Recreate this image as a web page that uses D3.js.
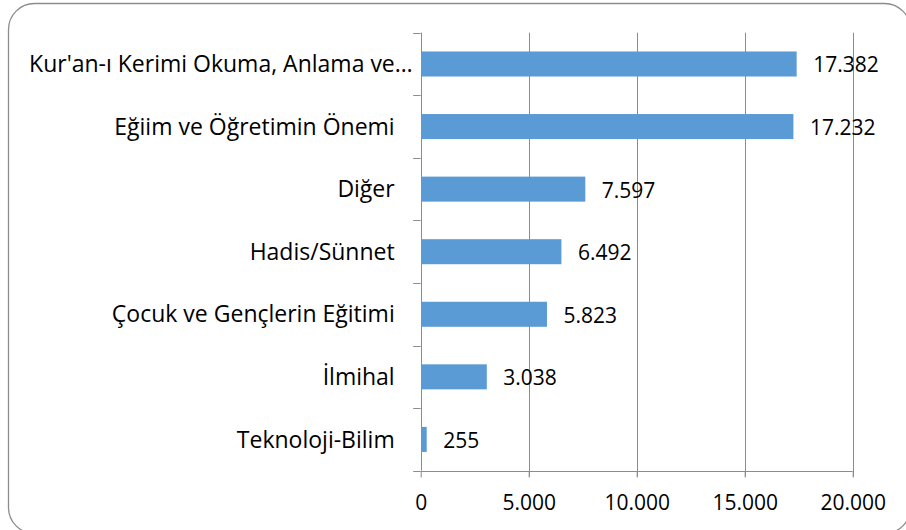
<!DOCTYPE html>
<html>
<head>
<meta charset="utf-8">
<script src="https://cdn.jsdelivr.net/npm/d3@7"></script>
<style>
  body { margin: 0; background: #fff; }
  svg text { font-family: "Open Sans", sans-serif; fill: #000; }
</style>
</head>
<body>
<div id="chart"></div>
<script>
const categories = [
  "Kur'an-ı Kerimi Okuma, Anlama ve…",
  "Eğiim ve Öğretimin Önemi",
  "Diğer",
  "Hadis/Sünnet",
  "Çocuk ve Gençlerin Eğitimi",
  "İlmihal",
  "Teknoloji-Bilim"
];
const values = [17382, 17232, 7597, 6492, 5823, 3038, 255];
const xTicks = [0, 5000, 10000, 15000, 20000];

const width = 906, height = 530;
const plotLeft = 420.7, plotRight = 852.7, plotTop = 32.7, plotBottom = 470.7;
const fs = 21;      // numbers
const fsCat = 23;   // category names

// turkish style numbers: 17.382
const tr = d3.formatLocale({decimal: ",", thousands: ".", grouping: [3], currency: ["", " TL"]});
const fmt = tr.format(",d");

const svg = d3.select("#chart").append("svg")
  .attr("width", width)
  .attr("height", height);

// frame
svg.append("rect")
  .attr("x", 8.5).attr("y", 3.5)
  .attr("width", 902).attr("height", 530)
  .attr("rx", 26).attr("ry", 26)
  .attr("fill", "#fff")
  .attr("stroke", "#8c8c8c")
  .attr("stroke-width", 1.3);

const x = d3.scaleLinear().domain([0, 20000]).range([plotLeft, plotRight]);
const y = d3.scaleBand().domain(categories).range([plotTop, plotBottom]).paddingInner(0.6).paddingOuter(0.3);
const yBand = d3.scaleBand().domain(categories).range([plotTop, plotBottom]);

// gridlines
svg.append("g")
  .selectAll("line")
  .data(xTicks.slice(1))
  .enter()
  .append("line")
  .attr("x1", d => Math.round(x(d)) + 0.5)
  .attr("x2", d => Math.round(x(d)) + 0.5)
  .attr("y1", plotTop)
  .attr("y2", plotBottom + 6)
  .attr("stroke", "#8c8c8c")
  .attr("stroke-width", 1);

// x axis
const xAxis = d3.axisBottom(x)
  .tickValues(xTicks)
  .tickFormat(fmt)
  .tickSize(6)
  .tickPadding(8);

const gx = svg.append("g")
  .attr("transform", "translate(0," + (Math.round(plotBottom) + 0.5) + ")")
  .call(xAxis);
gx.select(".domain").attr("stroke", "#8c8c8c").attr("d", "M" + plotLeft + ",0H" + plotRight);
gx.selectAll(".tick line").attr("stroke", "#8c8c8c");
gx.selectAll(".tick text")
  .attr("font-size", fs)
  .attr("font-family", "Open Sans, sans-serif")
  .attr("dy", null)
  .attr("y", 38.5);

// y axis (ticks between categories)
const yTicks = d3.range(categories.length + 1).map(i => plotTop + i * yBand.step());
svg.append("line")
  .attr("x1", Math.round(plotLeft) + 0.5).attr("x2", Math.round(plotLeft) + 0.5)
  .attr("y1", plotTop).attr("y2", plotBottom)
  .attr("stroke", "#8c8c8c");
svg.append("g")
  .selectAll("line")
  .data(yTicks)
  .enter()
  .append("line")
  .attr("x1", plotLeft - 7.5)
  .attr("x2", plotLeft)
  .attr("y1", d => Math.round(d) + 0.5)
  .attr("y2", d => Math.round(d) + 0.5)
  .attr("stroke", "#8c8c8c");

// category labels
svg.append("g")
  .selectAll("text")
  .data(categories)
  .enter()
  .append("text")
  .attr("text-anchor", "end")
  .attr("font-size", fsCat)
  .attr("x", d => d.endsWith("…") ? plotLeft - 8 : plotLeft - 26)
  .attr("y", d => yBand(d) + yBand.bandwidth() / 2 + 0.357 * fsCat)
  .text(d => d);

// bars
svg.append("g")
  .selectAll("rect")
  .data(values)
  .enter()
  .append("rect")
  .attr("x", x(0) + 0.5)
  .attr("y", (d, i) => y(categories[i]))
  .attr("width", d => x(d) - x(0))
  .attr("height", y.bandwidth())
  .attr("fill", "#5b9bd5");

// value labels
svg.append("g")
  .selectAll("text")
  .data(values)
  .enter()
  .append("text")
  .attr("font-size", fs)
  .attr("x", d => x(d) + 17)
  .attr("y", (d, i) => yBand(categories[i]) + yBand.bandwidth() / 2 + 0.357 * fs + 1)
  .text(d => fmt(d));
</script>
</body>
</html>
